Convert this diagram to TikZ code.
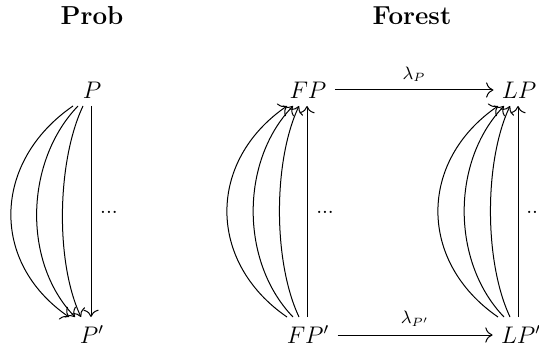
\documentclass[tikz,border=0pt]{standalone}
\usetikzlibrary{calc,arrows.meta}
\begin{document}
\begin{tikzpicture}[x=0.5pt,y=-0.5pt,
  obj/.style={inner sep=2pt, text height=8.2pt, text depth=0pt, font=\fontsize{12}{14}\selectfont},
  ttl/.style={anchor=base, inner sep=0pt, font=\fontsize{13}{15}\selectfont\bfseries},
  lbl/.style={inner sep=1pt, font=\fontsize{9}{10}\selectfont},
  dts/.style={inner sep=0pt, font=\fontsize{10.5}{12}\selectfont},
  arr/.style={-{Computer Modern Rightarrow[scale=1.35]}, line width=0.5pt}]
\useasboundingbox (0,0) rectangle (539,352);
% titles
\node[ttl] (tprob) at (92,25) {Prob};
\node[ttl] (tforest) at (412,25) {Forest};
% objects
\node[obj] (P) at (92,90) {$P$};
\node[obj] (Pp) at (92,335) {$P'$};
\node[obj] (FP) at (308,90) {$FP$};
\node[obj] (FPp) at (308,335) {$FP'$};
\node[obj] (LP) at (519,90) {$LP$};
\node[obj] (LPp) at (521,335) {$LP'$};
% Prob arrows (downward)
\draw[arr] ($(P)+(-1,16)$) -- ($(Pp)+(-1,-18)$);
\draw[arr] ($(P)+(-9,16)$) .. controls +(-26,55) and +(-26,-55) .. ($(Pp)+(-11,-18)$);
\draw[arr] ($(P)+(-14,16)$) .. controls +(-53,55) and +(-53,-55) .. ($(Pp)+(-17,-18)$);
\draw[arr] ($(P)+(-19,16)$) .. controls +(-80,55) and +(-80,-55) .. ($(Pp)+(-23,-18)$);
\node[dts] (dP) at (109,212) {...};
% Forest FP arrows (upward)
\draw[arr] ($(FPp)+(-1,-18)$) -- ($(FP)+(-1,16)$);
\draw[arr] ($(FPp)+(-9,-18)$) .. controls +(-26,-55) and +(-26,55) .. ($(FP)+(-9,16)$);
\draw[arr] ($(FPp)+(-15,-18)$) .. controls +(-53,-55) and +(-53,55) .. ($(FP)+(-15,16)$);
\draw[arr] ($(FPp)+(-21,-18)$) .. controls +(-80,-55) and +(-80,55) .. ($(FP)+(-21,16)$);
\node[dts] (dFP) at (325,212) {...};
% Forest LP arrows (upward)
\draw[arr] ($(LPp)+(-3,-18)$) -- ($(LP)+(-1,16)$);
\draw[arr] ($(LPp)+(-11,-18)$) .. controls +(-26,-55) and +(-26,55) .. ($(LP)+(-9,16)$);
\draw[arr] ($(LPp)+(-17,-18)$) .. controls +(-53,-55) and +(-53,55) .. ($(LP)+(-15,16)$);
\draw[arr] ($(LPp)+(-23,-18)$) .. controls +(-80,-55) and +(-80,55) .. ($(LP)+(-21,16)$);
\node[dts] (dLP) at (535,212) {...};
% horizontal arrows
\draw[arr, shorten <=2pt, shorten >=2pt] (FP) -- node[lbl, above=3pt] (lP) {$\lambda_P$} (LP);
\draw[arr, shorten <=2pt, shorten >=2pt] (FPp) -- node[lbl, above=3pt] (lPp) {$\lambda_{P'}$} (LPp);
\end{tikzpicture}
\end{document}
